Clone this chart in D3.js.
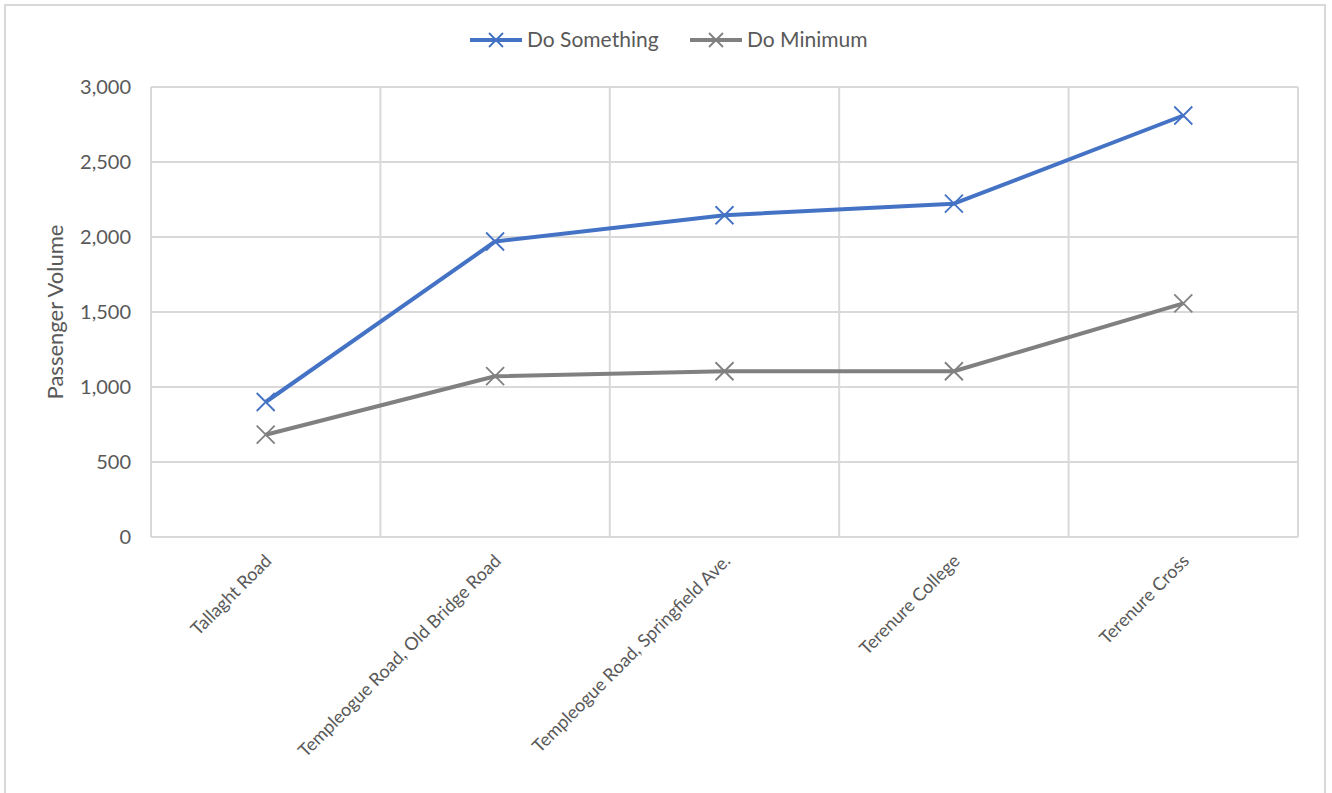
<!DOCTYPE html>
<html>
<head>
<meta charset="utf-8">
<script src="https://cdn.jsdelivr.net/npm/d3@7/dist/d3.min.js"></script>
<style>
  html, body { margin: 0; padding: 0; background: #fff; }
  svg { display: block; }
  text { font-family: Lato, "Open Sans", sans-serif; fill: #595959; }
</style>
</head>
<body>
<div id="chart"></div>
<script>
// Passenger volume by stop, two scenarios
const categories = [
  "Tallaght Road",
  "Templeogue Road, Old Bridge Road",
  "Templeogue Road, Springfield Ave.",
  "Terenure College",
  "Terenure Cross"
];
const doSomething = [900, 1970, 2145, 2222, 2810];
const doMinimum = [682, 1072, 1105, 1105, 1558];
const yTicks = [0, 500, 1000, 1500, 2000, 2500, 3000];
const seriesNames = ["Do Something", "Do Minimum"];
const seriesColors = ["#4472C4", "#808080"];

const W = 1332, H = 793;
const plot = { left: 151, right: 1298, top: 87, bottom: 537 };

const svg = d3.select("#chart").append("svg")
  .attr("width", W).attr("height", H);

svg.append("rect").attr("width", W).attr("height", H).attr("fill", "#fff");

// outer chart frame
svg.append("rect")
  .attr("x", 5).attr("y", 5)
  .attr("width", 1320).attr("height", H + 20)
  .attr("fill", "none").attr("stroke", "#d9d9d9").attr("stroke-width", 2);

const x = d3.scaleBand().domain(categories).range([plot.left, plot.right]).padding(0);
const y = d3.scaleLinear().domain([0, 3000]).range([plot.bottom, plot.top]);

const grid = svg.append("g").attr("stroke", "#d9d9d9").attr("stroke-width", 2);

// horizontal gridlines
grid.selectAll("line.h").data(yTicks).join("line")
  .attr("class", "h")
  .attr("x1", plot.left).attr("x2", plot.right)
  .attr("y1", d => y(d)).attr("y2", d => y(d));

// vertical gridlines at category boundaries
const bounds = categories.map(c => x(c)).concat([x(categories[categories.length - 1]) + x.bandwidth()]);
grid.selectAll("line.v").data(bounds).join("line")
  .attr("class", "v")
  .attr("x1", d => d).attr("x2", d => d)
  .attr("y1", plot.top).attr("y2", plot.bottom);

// y axis labels
const yAxis = d3.axisLeft(y).tickValues(yTicks).tickSize(0).tickPadding(20)
  .tickFormat(d3.format(","));
svg.append("g").attr("transform", `translate(${plot.left},0)`).call(yAxis)
  .call(g => g.select(".domain").remove())
  .selectAll("text")
  .style("font-family", "Lato, sans-serif")
  .style("font-size", "20px")
  .attr("fill", "#595959");

// y axis title
svg.append("text")
  .attr("transform", `translate(63,${(plot.top + plot.bottom) / 2}) rotate(-90)`)
  .attr("text-anchor", "middle")
  .style("font-size", "22px")
  .text("Passenger Volume");

// category labels, rotated
const xAxis = d3.axisBottom(x).tickSize(0).tickPadding(0);
svg.append("g").attr("transform", `translate(0,${plot.bottom})`).call(xAxis)
  .call(g => g.select(".domain").remove())
  .selectAll("text")
  .style("font-family", "Lato, sans-serif")
  .style("font-size", "18px")
  .attr("fill", "#595959")
  .attr("text-anchor", "end")
  .attr("dy", 0)
  .attr("transform", "translate(7,25) rotate(-45)");

// series lines and X markers
const series = [doSomething, doMinimum];
const line = d3.line()
  .x((d, i) => x(categories[i]) + x.bandwidth() / 2)
  .y(d => y(d));

series.forEach((vals, si) => {
  const g = svg.append("g");
  g.append("path").datum(vals)
    .attr("d", line)
    .attr("fill", "none")
    .attr("stroke", seriesColors[si])
    .attr("stroke-width", 4)
    .attr("stroke-linejoin", "round");
  const m = 9;
  const pts = g.selectAll("g.pt").data(vals).join("g")
    .attr("transform", (d, i) => `translate(${x(categories[i]) + x.bandwidth() / 2},${y(d)})`);
  pts.append("path")
    .attr("d", `M${-m},${-m}L${m},${m}M${-m},${m}L${m},${-m}`)
    .attr("stroke", seriesColors[si])
    .attr("stroke-width", 1.8)
    .attr("fill", "none");
});

// legend
const legendItems = [
  { name: seriesNames[0], color: seriesColors[0], x: 470 },
  { name: seriesNames[1], color: seriesColors[1], x: 690 }
];
const lg = svg.append("g");
legendItems.forEach(it => {
  const g = lg.append("g").attr("transform", `translate(${it.x},40)`);
  g.append("line").attr("x1", 0).attr("x2", 52).attr("y1", 0).attr("y2", 0)
    .attr("stroke", it.color).attr("stroke-width", 4);
  g.append("path").attr("d", "M19,-7L33,7M19,7L33,-7")
    .attr("stroke", it.color).attr("stroke-width", 1.8);
  g.append("text").attr("x", 57).attr("y", 7)
    .style("font-size", "21px").text(it.name);
});
</script>
</body>
</html>
